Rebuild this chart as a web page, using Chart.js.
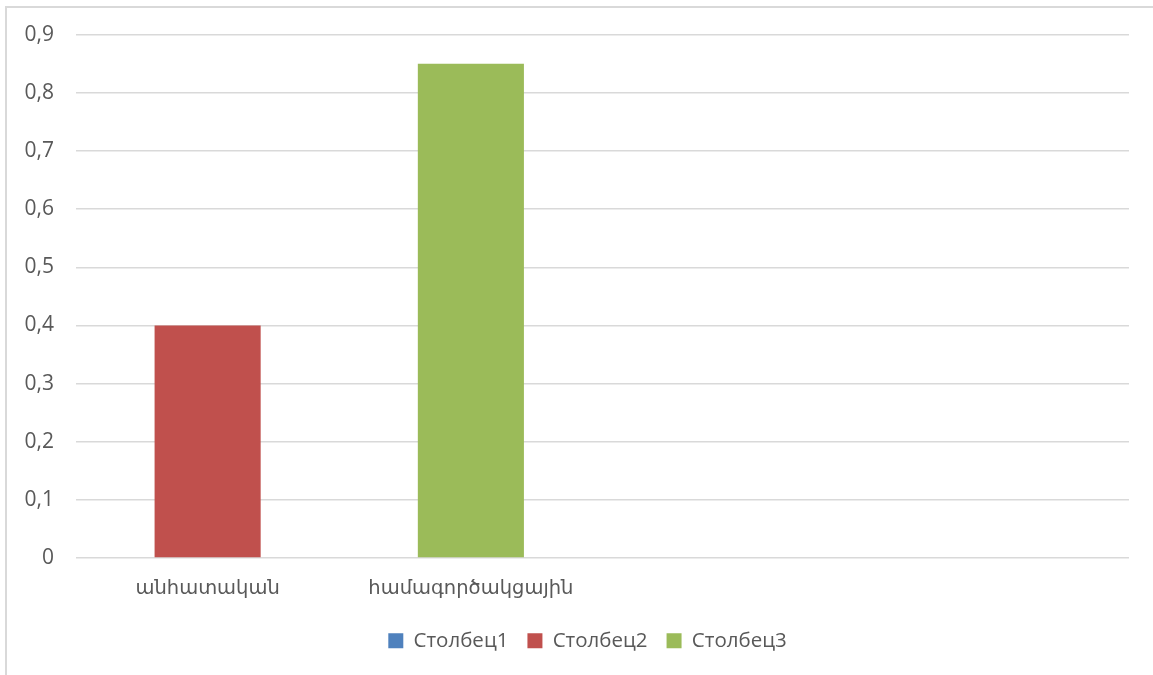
<!DOCTYPE html>
<html>
<head>
<meta charset="utf-8">
<script src="https://cdn.jsdelivr.net/npm/chart.js@4/dist/chart.umd.min.js"></script>
<style>
  body { margin: 0; background: #fff; overflow: hidden; }
  #frame { position: absolute; left: 5px; top: 6px; width: 1300px; height: 800px; border: 2px solid #d9d9d9; }
  #wrap { position: absolute; left: 0; top: 0; width: 1153px; height: 675px; }
</style>
</head>
<body>
<div id="frame"></div>
<div id="wrap"><canvas id="chart"></canvas></div>
<script>
  // categories and series
  const categories = ['անհատական', 'համագործակցային', '', ''];
  const seriesNames = ['Столбец1', 'Столбец2', 'Столбец3'];
  const col1 = [null, null, null, null];
  const col2 = [0.4, null, null, null];
  const col3 = [null, 0.85, null, null];
  const yTicks = [0, 0.1, 0.2, 0.3, 0.4, 0.5, 0.6, 0.7, 0.8, 0.9];

  const textColor = '#595959';
  const fontFamily = '"Open Sans", "DejaVu Sans", sans-serif';

  // Excel centres the legend a bit right of the canvas centre
  const legendShift = {
    id: 'legendShift',
    afterLayout(chart) {
      chart.legend.left += 23;
      chart.legend.right += 23;
    }
  };

  let chartConfig = {
    type: 'bar',
    data: {
      labels: categories,
      datasets: [
        { label: seriesNames[0], data: col1, backgroundColor: '#4f81bd' },
        { label: seriesNames[1], data: col2, backgroundColor: '#c0504d' },
        { label: seriesNames[2], data: col3, backgroundColor: '#9bbb59' },
      ]
    },
    options: {
      responsive: true,
      maintainAspectRatio: false,
      animation: false,
      skipNull: true,
      datasets: { bar: { categoryPercentage: 1, barPercentage: 0.403 } },
      layout: { padding: { top: 29, right: 24, left: 0, bottom: 14 } },
      scales: {
        x: {
          grid: { display: false },
          border: { display: false },
          ticks: { color: textColor, font: { family: fontFamily, size: 19.5 }, padding: 11, maxRotation: 0 }
        },
        y: {
          min: 0,
          max: 0.9,
          afterFit: (scale) => { scale.width = 76; },
          afterBuildTicks: (scale) => { scale.ticks = yTicks.map(v => ({ value: v })); },
          grid: { color: '#d9d9d9', lineWidth: 1.5, drawTicks: false },
          border: { display: false },
          ticks: {
            color: textColor,
            padding: 22,
            font: { family: fontFamily, size: 21 },
            callback: (v) => v === 0 ? '0' : v.toFixed(1).replace('.', ',')
          }
        }
      },
      plugins: {
        tooltip: { enabled: false },
        legend: {
          position: 'bottom',
          labels: {
            color: textColor,
            font: { family: fontFamily, size: 20.5 },
            boxWidth: 15,
            boxHeight: 15,
            padding: 19
          }
        }
      }
    },
    plugins: [legendShift]
  };

  let ctx = document.getElementById('chart').getContext('2d');
  new Chart(ctx, chartConfig);
</script>
</body>
</html>
